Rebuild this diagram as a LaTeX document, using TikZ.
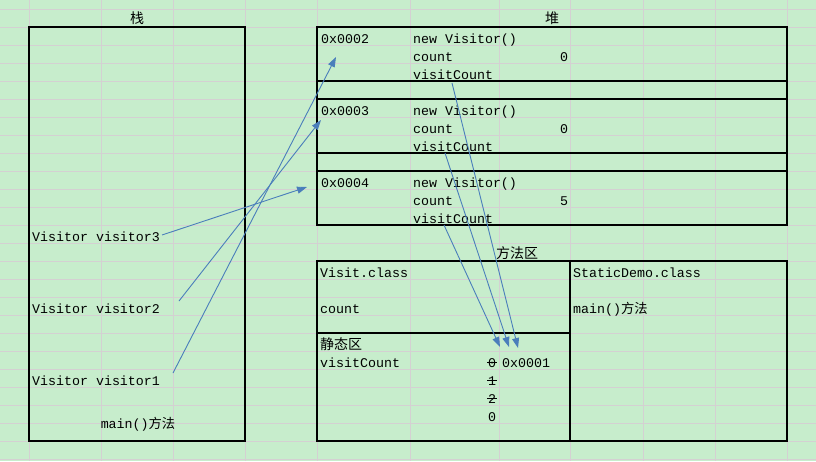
\documentclass[tikz,border=0pt]{standalone}
\usepackage{fontspec}
\setmainfont{Liberation Mono}
\newfontfamily\cjk{Noto Sans CJK SC}
\usetikzlibrary{arrows.meta}
\definecolor{bg}{HTML}{C7EDCC}
\definecolor{gridc}{HTML}{D4D0D2}
\definecolor{arr}{HTML}{4A7EBB}
\begin{document}
\begin{tikzpicture}[x=1pt,y=-1pt,
  txt/.style={anchor=base west,inner sep=0pt,font=\fontsize{13.3}{15}\selectfont},
  ctxt/.style={anchor=base,inner sep=0pt,font=\fontsize{13.3}{15}\selectfont},
  lbl/.style={anchor=center,inner sep=0pt,font=\cjk\fontsize{14}{16}\selectfont},
  box/.style={draw=black,line width=1.2pt},
  gridline/.style={draw=gridc,line width=0.8pt},
  ptr/.style={draw=arr,line width=0.9pt,-{Triangle[length=10pt,width=7pt]}},
  strike/.style={draw=black,line width=0.6pt}]
\fill[bg] (0,0) rectangle (816,461);
\useasboundingbox (0,0) rectangle (816,461);
\foreach \x in {29,101,173,245,317,410,499,570,643,715,787} \draw[gridline] (\x,0) -- (\x,461);
\foreach \y in {9,27,...,459} \draw[gridline] (0,\y) -- (816,\y);
% boxes
\draw[box] (29,27) rectangle (245,441);
\draw[box] (317,27) rectangle (787,225);
\foreach \y in {81,99,153,171} \draw[box] (317,\y) -- (787,\y);
\draw[box] (317,261) rectangle (787,441);
\draw[box] (570,261) -- (570,441);
\draw[box] (317,333) -- (570,333);
% titles
\node[lbl] (tstack) at (137,18) {栈};
\node[lbl] (theap) at (552,18) {堆};
\node[lbl] (tmethod) at (517,253) {方法区};
% heap
\node[txt] (a2) at (321,43) {0x0002};
\node[txt] (n2) at (413,43) {new Visitor()};
\node[txt] (c2) at (413,61) {count};
\node[ctxt] (c2v) at (564,61) {0};
\node[txt] (vc2) at (413,79) {visitCount};
\node[txt] (a3) at (321,115) {0x0003};
\node[txt] (n3) at (413,115) {new Visitor()};
\node[txt] (c3) at (413,133) {count};
\node[ctxt] (c3v) at (564,133) {0};
\node[txt] (vc3) at (413,151) {visitCount};
\node[txt] (a4) at (321,187) {0x0004};
\node[txt] (n4) at (413,187) {new Visitor()};
\node[txt] (c4) at (413,205) {count};
\node[ctxt] (c4v) at (564,205) {5};
\node[txt] (vc4) at (413,223) {visitCount};
% method area
\node[txt] (vcls) at (320,277) {Visit.class};
\node[txt] (vcount) at (320,313) {count};
\node[txt] (scls) at (573,277) {StaticDemo.class};
\node[txt] (smain) at (573,313) {main(){\cjk 方法}};
\node[txt,font=\cjk\fontsize{14}{16}\selectfont] (static) at (320,349) {静态区};
\node[txt] (svc) at (320,367) {visitCount};
\node[ctxt] (s0) at (492,367) {0};
\node[txt] (saddr) at (502,367) {0x0001};
\node[ctxt] (s1) at (492,385) {1};
\node[ctxt] (s2) at (492,403) {2};
\node[ctxt] (s3) at (492,421) {0};
\draw[strike] (487,362) -- (497,362);
\draw[strike] (487,380) -- (497,380);
\draw[strike] (487,398) -- (497,398);
% stack
\node[txt] (v3) at (32,241) {Visitor visitor3};
\node[txt] (v2) at (32,313) {Visitor visitor2};
\node[txt] (v1) at (32,385) {Visitor visitor1};
\node[ctxt] (smainm) at (138,428) {main(){\cjk 方法}};
% arrow ends
\coordinate (v3s) at (162,235);
\coordinate (v3e) at (307,187);
\coordinate (v2s) at (179,301);
\coordinate (v2e) at (321,120);
\coordinate (v1s) at (173,373);
\coordinate (v1e) at (336,57);
\coordinate (h1s) at (452,83);
\coordinate (h1e) at (518,348);
\coordinate (h2s) at (445,153);
\coordinate (h2e) at (509,347);
\coordinate (h3s) at (444,225);
\coordinate (h3e) at (500,347);
\draw[ptr] (v3s) -- (v3e);
\draw[ptr] (v2s) -- (v2e);
\draw[ptr] (v1s) -- (v1e);
\draw[ptr] (h1s) -- (h1e);
\draw[ptr] (h2s) -- (h2e);
\draw[ptr] (h3s) -- (h3e);
\end{tikzpicture}
\end{document}
